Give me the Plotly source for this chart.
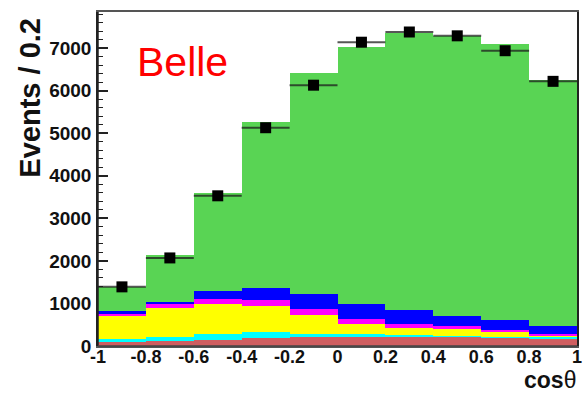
import plotly.graph_objects as go

# cos(theta) binning: 10 bins of width 0.2 from -1 to 1
bin_centers = [-0.9, -0.7, -0.5, -0.3, -0.1, 0.1, 0.3, 0.5, 0.7, 0.9]
bin_width = 0.2

# Stacked MC components (events per bin), bottom to top
comp_red = [85, 111, 150, 190, 215, 212, 215, 215, 198, 174]
comp_cyan = [90, 101, 142, 139, 77, 80, 40, 30, 23, 38]
comp_yellow = [545, 688, 706, 605, 437, 235, 169, 148, 101, 33]
comp_magenta = [40, 90, 108, 141, 135, 108, 103, 78, 47, 30]
comp_blue = [60, 55, 181, 290, 352, 363, 329, 244, 236, 189]
comp_green = [570, 1090, 2298, 3905, 5194, 6022, 6494, 6580, 6485, 5786]

# Observed events per bin
data_counts = [1390, 2070, 3530, 5130, 6130, 7140, 7380, 7290, 6940, 6220]

x_tick_vals = [-1, -0.8, -0.6, -0.4, -0.2, 0, 0.2, 0.4, 0.6, 0.8, 1]
x_tick_text = ["-1", "-0.8", "-0.6", "-0.4", "-0.2", "0", "0.2", "0.4", "0.6", "0.8", "1"]
y_tick_vals = [0, 1000, 2000, 3000, 4000, 5000, 6000, 7000]

FONT = "Liberation Sans, Arial, Helvetica, sans-serif"

fig = go.Figure()

components = [
    (comp_red, "#CF5E60"),
    (comp_cyan, "#00FFFF"),
    (comp_yellow, "#FFFF00"),
    (comp_magenta, "#FF00FF"),
    (comp_blue, "#0000FF"),
    (comp_green, "#59D454"),
]
for vals, col in components:
    fig.add_trace(go.Bar(
        x=bin_centers, y=vals, width=bin_width,
        marker=dict(color=col, line=dict(width=0)),
        hoverinfo="skip", showlegend=False,
    ))

fig.add_trace(go.Scatter(
    x=bin_centers, y=data_counts, mode="markers",
    marker=dict(symbol="square", size=11, color="black"),
    error_x=dict(type="constant", value=bin_width / 2, width=0,
                 thickness=2, color="rgba(30,30,30,0.75)"),
    hoverinfo="skip", showlegend=False,
))

fig.update_layout(
    width=586, height=394,
    margin=dict(l=97.5, r=3.5, t=12, b=48.3),
    paper_bgcolor="white", plot_bgcolor="white",
    barmode="stack", bargap=0,
    xaxis=dict(
        range=[-1, 1], tickvals=x_tick_vals, ticktext=x_tick_text,
        ticks="", showgrid=False, zeroline=False,
        showline=True, linecolor="#555", linewidth=1.5, mirror=True,
        layer="below traces",
        tickfont=dict(family=FONT, size=18, color="#111", weight="bold"),
        ticklabelstandoff=-6, ticklabeloverflow="allow",
    ),
    yaxis=dict(
        range=[0, 7850], tickvals=y_tick_vals,
        ticks="inside", ticklen=10, tickwidth=1.5, tickcolor="#222",
        minor=dict(ticks="inside", ticklen=5, dtick=200, tickwidth=1.2, tickcolor="#222"),
        showgrid=False, zeroline=False,
        showline=True, linecolor="#222", linewidth=1.5, mirror=True,
        layer="below traces",
        tickfont=dict(family=FONT, size=19, color="#111", weight="bold"),
        ticklabelstandoff=1,
    ),
    annotations=[
        dict(text="Events / 0.2", textangle=-90, xref="paper", yref="paper",
             x=-0.141, y=0.745, xanchor="center", yanchor="middle", showarrow=False,
             font=dict(family=FONT, size=29, color="#111", weight="bold")),
        dict(text="<b>cos</b>θ", xref="paper", yref="paper",
             x=1.0, y=-0.1447, xanchor="right", yanchor="bottom", showarrow=False,
             borderpad=0,
             font=dict(family=FONT, size=23, color="#111")),
        dict(text="Belle", xref="paper", yref="paper",
             x=0.077, y=0.85, xanchor="left", yanchor="middle", showarrow=False,
             font=dict(family=FONT, size=41, color="#FF0000")),
    ],
    shapes=[
        dict(type="line", xref="paper", yref="paper", x0=0, x1=0, y0=0, y1=1,
             line=dict(color="#222", width=1.5), layer="above"),
        dict(type="line", xref="paper", yref="paper", x0=0, x1=1, y0=0, y1=0,
             line=dict(color="#444", width=1.5), layer="above"),
    ],
)

fig.write_html("out.html")
